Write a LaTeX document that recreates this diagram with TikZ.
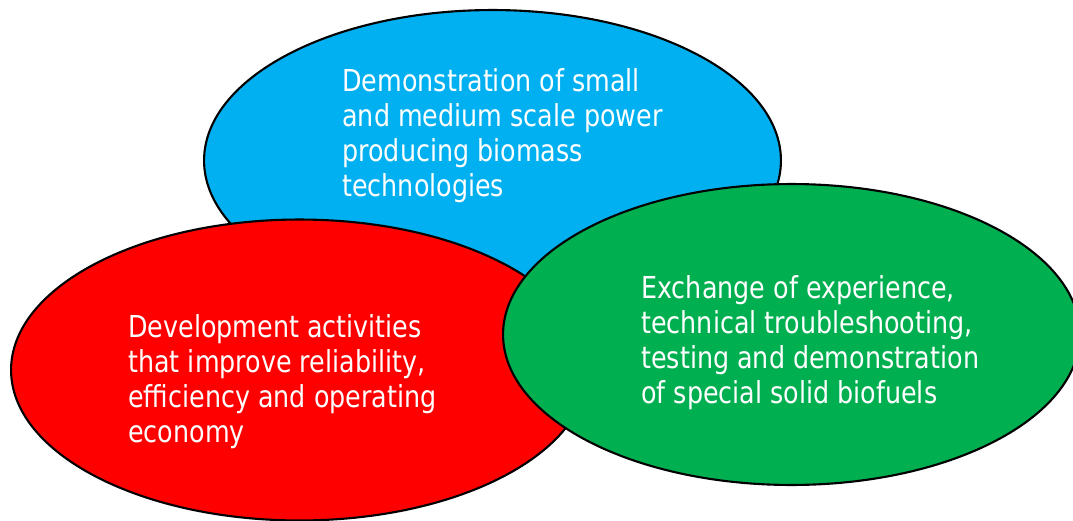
\documentclass[tikz,border=0pt]{standalone}
\usepackage{fontspec}
\setmainfont{DejaVu Sans}[FakeStretch=0.84]
\usepackage{tikz}
\usetikzlibrary{shapes.geometric}

\definecolor{bubbleblue}{HTML}{00B0F0}
\definecolor{bubblered}{HTML}{FF0000}
\definecolor{bubblegreen}{HTML}{00B050}

\begin{document}
\begin{tikzpicture}[x=0.02cm, y=-0.02cm,
    bubble/.style={ellipse, draw=black, line width=1.2pt, minimum width=11.54cm, minimum height=6.02cm, inner sep=0pt},
    bubbletext/.style={anchor=north west, inner sep=0pt, align=left, text=white,
      font=\fontsize{17.2}{19.9}\selectfont}]

  \useasboundingbox (0,0) rectangle (1073,521);

  \node[bubble, fill=bubbleblue] (demo) at (492.5,160.5) {};
  \node[bubble, fill=bubblered] (devel) at (299.5,370) {};
  \node[bubble, fill=bubblegreen] (exch) at (791.5,334.5) {};

  \node[bubbletext] (demotext) at (342,68) {Demonstration of small\\and medium scale power\\producing biomass\\technologies};
  \node[bubbletext] (develtext) at (128,314) {Development activities\\that improve reliability,\\efficiency and operating\\economy};
  \node[bubbletext] (exchtext) at (641,275) {Exchange of experience,\\technical troubleshooting,\\testing and demonstration\\of special solid biofuels};

\end{tikzpicture}
\end{document}
